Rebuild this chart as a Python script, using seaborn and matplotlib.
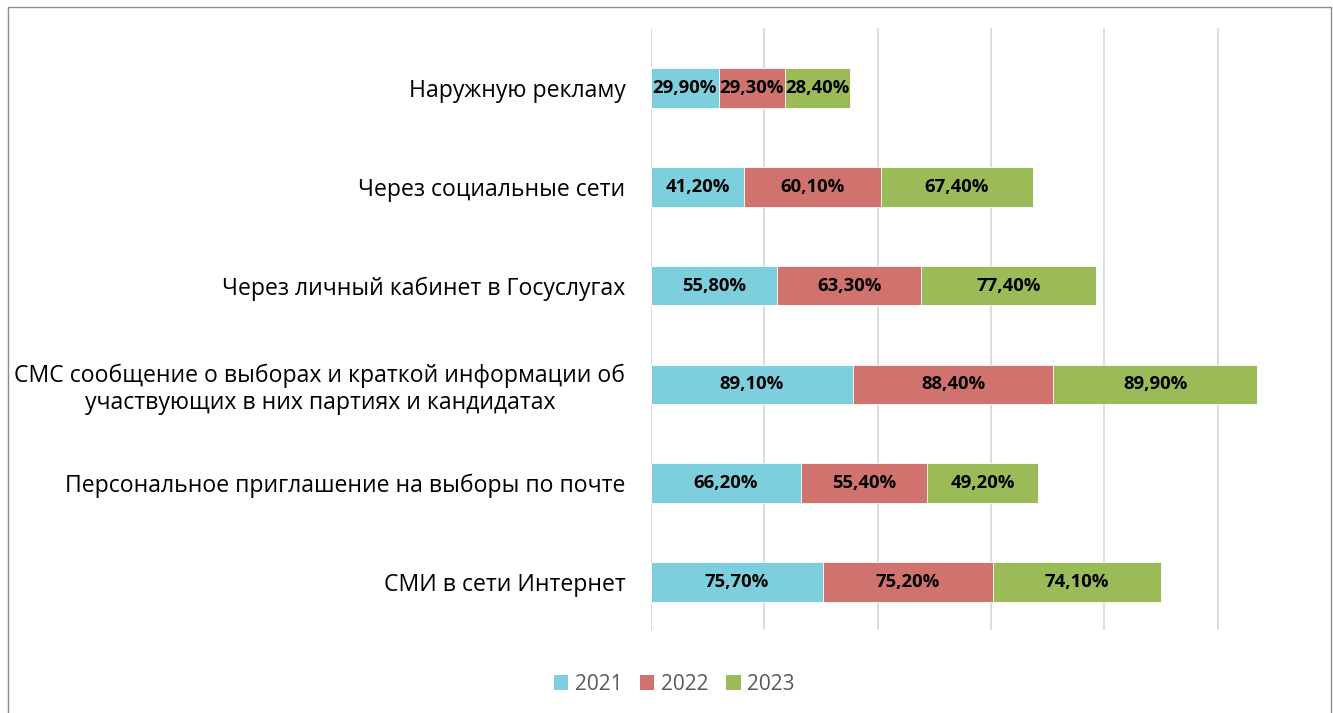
import seaborn as sns
import numpy as np
import pandas as pd
import matplotlib.pyplot as plt
from matplotlib.patches import Rectangle, Patch

categories = [
    "Наружную рекламу",
    "Через социальные сети",
    "Через личный кабинет в Госуслугах",
    "СМС сообщение о выборах и краткой информации об\nучаствующих в них партиях и кандидатах",
    "Персональное приглашение на выборы по почте",
    "СМИ в сети Интернет",
]
years = ["2021", "2022", "2023"]
v2021 = [29.9, 41.2, 55.8, 89.1, 66.2, 75.7]
v2022 = [29.3, 60.1, 63.3, 88.4, 55.4, 75.2]
v2023 = [28.4, 67.4, 77.4, 89.9, 49.2, 74.1]
colors = ["#7ECFDD", "#D0736F", "#9BBB59"]

sns.set_style("white")
plt.rcParams["font.family"] = ["Open Sans", "DejaVu Sans"]

df = pd.DataFrame({"cat": categories, "2021": v2021, "2022": v2022, "2023": v2023})
# cumulative sums for stacking
df["c1"] = df["2021"]
df["c2"] = df["2021"] + df["2022"]
df["c3"] = df["c2"] + df["2023"]

fig = plt.figure(figsize=(13.33, 7.13), dpi=100)
ax = fig.add_axes([651 / 1333, 1 - 630 / 713, (1331 - 651) / 1333, (630 - 28) / 713])

# draw the longest stack first, then overlay shorter ones
for col, c in zip(["c3", "c2", "c1"], colors[::-1]):
    sns.barplot(data=df, y="cat", x=col, color=c, width=0.4, ax=ax, saturation=1, orient="h",
                edgecolor="white", linewidth=0.6)

# labels in the middle of each segment
for i in range(len(categories)):
    left = 0
    for vals in (v2021, v2022, v2023):
        v = vals[i]
        ax.text(left + v / 2, i, f"{v:.2f}%".replace(".", ","), ha="center", va="center",
                fontsize=13.3, fontweight="bold", color="black")
        left += v

ax.set_xlim(0, 300)
ax.set_ylim(5.486, -0.607)
ax.set_xticks(np.arange(0, 251, 50))
ax.set_xticklabels([])
ax.tick_params(axis="x", length=0)
ax.grid(axis="x", color="#D9D9D9", linewidth=1.3)
ax.set_axisbelow(True)
for s in ax.spines.values():
    s.set_visible(False)
ax.set_xlabel("")
ax.set_ylabel("")
ax.tick_params(axis="y", length=0, pad=18.5, labelsize=16.6, labelcolor="black")
for lbl in ax.get_yticklabels():
    lbl.set_multialignment("center")

handles = [Patch(facecolor=c, edgecolor="none") for c in colors]
fig.legend(handles, years, loc="center", bbox_to_anchor=(674 / 1333, 1 - 684 / 713), ncol=3,
           frameon=False, fontsize=15, labelcolor="#595959", handlelength=0.7, handleheight=0.7,
           handletextpad=0.3, columnspacing=0.85)

fig.patches.append(Rectangle((8 / 1333, -0.05), (1331 - 8) / 1333, 1.05 - 7 / 713,
                             transform=fig.transFigure, fill=False, edgecolor="#8C8C8C", linewidth=1))

fig.savefig("out.png", dpi=100)
